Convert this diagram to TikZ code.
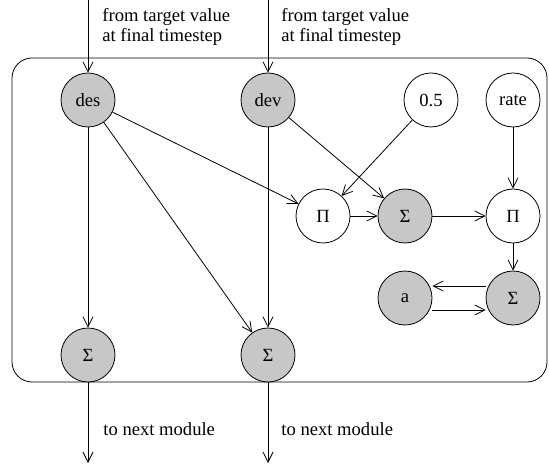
\documentclass[tikz,border=0pt]{standalone}
\usepackage{fontspec}
\setmainfont{LiberationSerif}[Extension=.ttf, UprightFont=*-Regular]
\newfontfamily\figfont{LiberationSerif}[Extension=.ttf, UprightFont=*-Regular]
\usetikzlibrary{arrows.meta}
\begin{document}
\begin{tikzpicture}[x=0.5pt, y=-0.5pt, thin, >={Straight Barb[length=5pt,width=5pt]},
    every node/.style={font=\figfont\fontsize{9.3}{9.8}\selectfont},
    var/.style={circle, draw, minimum size=27pt, inner sep=0pt},
    obs/.style={var, fill=black!22},
    lbl/.style={align=left, anchor=north west, inner sep=0pt}]
  \useasboundingbox (0,0) rectangle (549,469);
  % frame
  \draw[rounded corners=10pt] (12,58) rectangle (547,382);
  % top row
  \node[obs] (des) at (88,100) {des};
  \node[obs] (dev) at (268,100) {dev};
  \node[var] (half) at (431,100) {0.5};
  \node[var] (rate) at (513,100) {rate};
  % middle row
  \node[var] (prod1) at (323,216) {Π};
  \node[obs] (sum1) at (405,216) {Σ};
  \node[var] (prod2) at (513,216) {Π};
  \node[obs] (acc) at (405,298) {a};
  \node[obs] (sum2) at (513,298) {Σ};
  % bottom row
  \node[obs] (outl) at (88,355) {Σ};
  \node[obs] (outr) at (268,355) {Σ};
  % inputs and outputs
  \coordinate (inl) at (88,0);
  \coordinate (inr) at (268,0);
  \coordinate (endl) at (88,463);
  \coordinate (endr) at (268,463);
  \node[lbl] (txtl) at (102,8) {from target value\\at final timestep};
  \node[lbl] (txtr) at (281,8) {from target value\\at final timestep};
  \node[lbl] (nxtl) at (103,422) {to next module};
  \node[lbl] (nxtr) at (281,422) {to next module};
  % connectors
  \draw[->] (inl) -- (des);
  \draw[->] (inr) -- (dev);
  \draw[->] (des) -- (outl);
  \draw[->] (des) -- (prod1);
  \draw[->] (des) -- (outr);
  \draw[->] (dev) -- (outr);
  \draw[->] (dev) -- (sum1);
  \draw[->] (half) -- (prod1);
  \draw[->] (rate) -- (prod2);
  \draw[->] (prod1) -- (sum1);
  \draw[->] (sum1) -- (prod2);
  \draw[->] (prod2) -- (sum2);
  \draw[->] ([yshift=6pt]sum2.west) -- ([yshift=6pt]sum2.west -| acc.east);
  \draw[->] ([yshift=-6pt]acc.east) -- ([yshift=-6pt]acc.east -| sum2.west);
  \draw[->] (outl) -- (endl);
  \draw[->] (outr) -- (endr);
\end{tikzpicture}
\end{document}
